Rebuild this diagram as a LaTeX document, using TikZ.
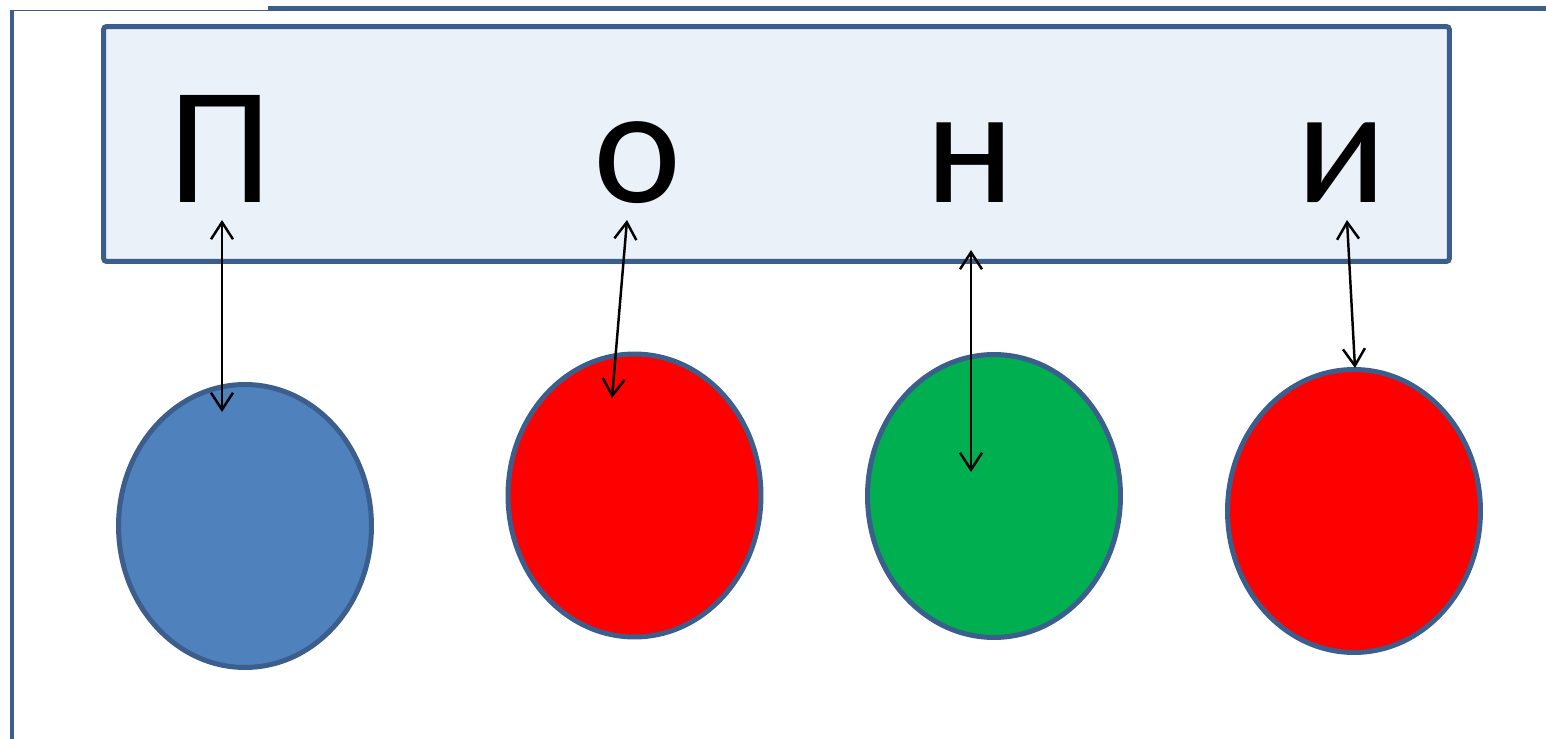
\documentclass[tikz,border=0pt]{standalone}
\usepackage{fontspec}
\setmainfont{Carlito}
\usetikzlibrary{arrows.meta,positioning,shapes.geometric}
\definecolor{frameblue}{HTML}{3B5E8C}
\definecolor{boxfill}{HTML}{EBF1F8}
\definecolor{ballblue}{HTML}{4F81BD}
\definecolor{ballred}{HTML}{FF0000}
\definecolor{ballgreen}{HTML}{00B050}
\tikzset{
	panel/.style = {draw=frameblue, fill=boxfill, rectangle, line width=0.1cm, rounded corners=0.06cm, minimum width=26.92cm, minimum height=4.7cm},
	letter/.style = {anchor=base, inner sep=0pt, font=\fontsize{95}{100}\selectfont},
	ball/.style = {draw=frameblue, ellipse, line width=0.1cm, inner sep=0pt, minimum width=5.06cm, minimum height=5.66cm},
	link/.style = {<->, line width=1.4pt},
	tmp/.style = {coordinate}
}

\begin{document}
\begin{tikzpicture}[x=0.02cm,y=-0.02cm,>={Straight Barb[length=3.4mm,width=4.4mm]}]
		\useasboundingbox (0,0) rectangle (1546,739);

		\draw [frameblue, line width=0.09cm] (12,739) -- (12,10);
		\draw [frameblue, line width=0.03cm] (10,10.5) -- (268,10.5);
		\draw [frameblue, line width=0.1cm] (268,8.5) -- (1546,8.5);

		\node [panel] (panel) at (776.5,144) {};

		\node [letter] (P) at (220,203) {П};
		\node [letter] (O) at (638,203) {о};
		\node [letter] (N) at (970,203) {н};
		\node [letter] (I) at (1342,203) {и};

		\node [ball, fill=ballblue] (b1) at (245,526) {};
		\node [ball, fill=ballred] (b2) at (634.5,495.5) {};
		\node [ball, fill=ballgreen] (b3) at (994,496) {};
		\node [ball, fill=ballred] (b4) at (1354,511) {};

		\coordinate (p1) at (222,220);
		\coordinate (q1) at (222,412);
		\coordinate (p2) at (627,220);
		\coordinate (q2) at (612,398);
		\coordinate (p3) at (971,250);
		\coordinate (q3) at (971,472);
		\coordinate (p4) at (1347,220);
		\coordinate (q4) at (1355,368);

		\draw [link] (p1) -- (q1);
		\draw [link] (p2) -- (q2);
		\draw [link] (p3) -- (q3);
		\draw [link] (p4) -- (q4);
	\end{tikzpicture}
\end{document}
